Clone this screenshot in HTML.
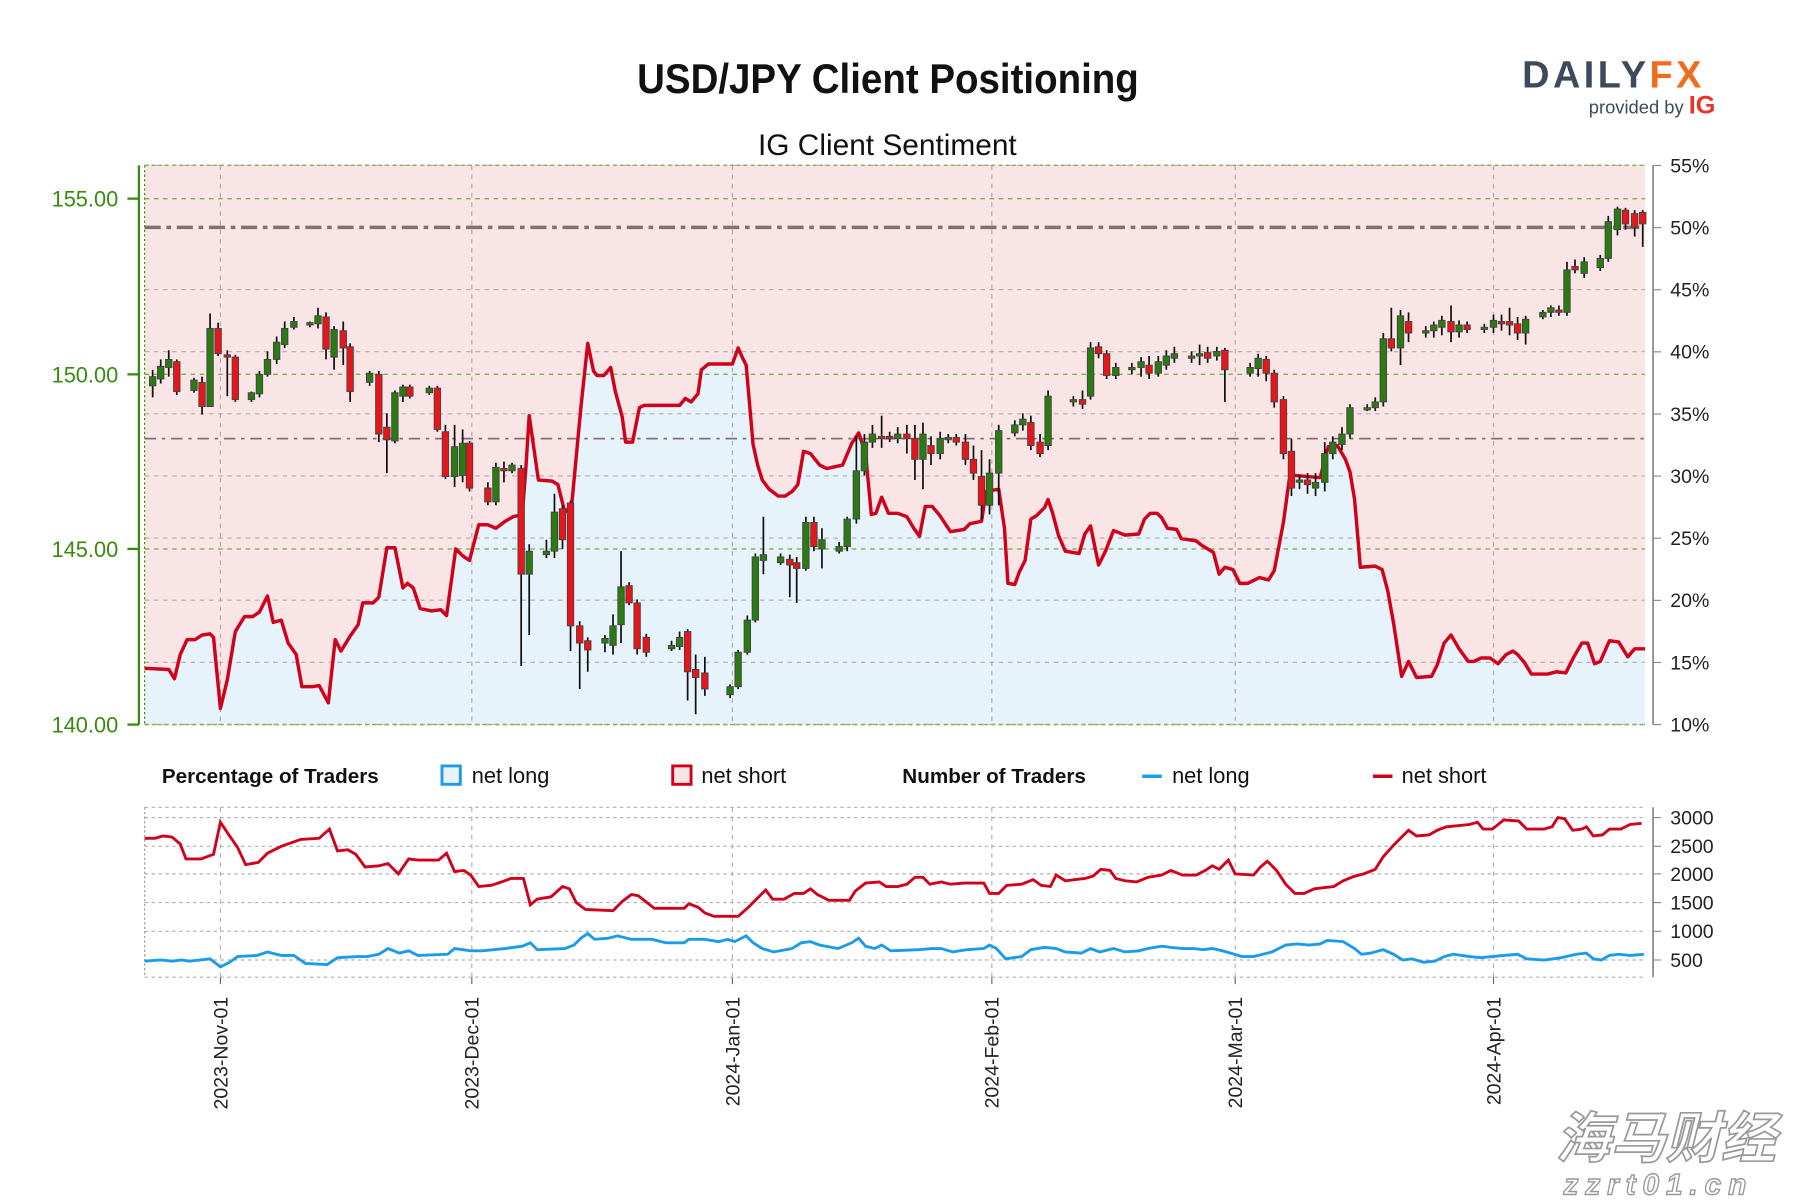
<!DOCTYPE html>
<html><head><meta charset="utf-8"><style>
html,body{margin:0;padding:0;background:#fff;width:1800px;height:1200px;overflow:hidden}
svg{display:block}
text{font-family:"Liberation Sans",sans-serif}
</style></head><body>
<svg id="s" width="1800" height="1200" viewBox="0 0 1568 1045" preserveAspectRatio="none" xmlns="http://www.w3.org/2000/svg">
<rect width="1568" height="1045" fill="#fff"/>
<text x="555" y="81" textLength="437" lengthAdjust="spacingAndGlyphs" font-size="36" font-weight="bold" fill="#111">USD/JPY Client Positioning</text>
<text x="773" y="135" text-anchor="middle" font-size="26" fill="#111">IG Client Sentiment</text>
<text x="1326" y="76" font-size="33" font-weight="bold" fill="#3d4a5c" letter-spacing="3">DAILY<tspan fill="#f26b1d">FX</tspan></text>
<text x="1384" y="99" font-size="16" fill="#3d4a5c">provided by <tspan fill="#e8332a" font-weight="bold" font-size="22">IG</tspan></text>
<rect x="126" y="144" width="1307" height="487" fill="#fae5e6"/>
<path id="area" fill="#e6f3fb"/>
<g id="grid"></g>
<line x1="126" y1="198" x2="1433" y2="198" stroke="#807070" stroke-width="3" stroke-dasharray="14,5,4,5"/>
<line x1="126" y1="382" x2="1433" y2="382" stroke="#807070" stroke-width="1.5" stroke-dasharray="10,5,3,5"/>
<polyline id="red" fill="none" stroke="#d0021b" stroke-width="3" stroke-linejoin="round"/>
<g id="candles"></g>
<line x1="121" y1="144" x2="121" y2="631" stroke="#3a8a0f" stroke-width="2"/>
<line x1="126" y1="144" x2="126" y2="631" stroke="#3a8a0f" stroke-width="1" stroke-dasharray="2,2"/>
<g stroke="#3a8a0f" stroke-width="2"><line x1="111" y1="173" x2="121" y2="173"/><line x1="111" y1="326" x2="121" y2="326"/><line x1="111" y1="478" x2="121" y2="478"/><line x1="111" y1="631" x2="121" y2="631"/></g>
<g fill="#3a8a0f" font-size="19" text-anchor="end"><text x="103" y="180">155.00</text><text x="103" y="333">150.00</text><text x="103" y="485">145.00</text><text x="103" y="638">140.00</text></g>
<line x1="1440" y1="144" x2="1440" y2="631" stroke="#888" stroke-width="1.5"/>
<g id="rt" fill="#222" font-size="17"></g>
<text x="141" y="682" font-size="18" font-weight="bold" fill="#111">Percentage of Traders</text>
<rect x="385" y="667" width="16" height="16" fill="#e6f3fb" stroke="#1c9be8" stroke-width="2.5"/>
<text x="411" y="682" font-size="19" fill="#111">net long</text>
<rect x="586" y="667" width="16" height="16" fill="#fae5e6" stroke="#d0021b" stroke-width="2.5"/>
<text x="611" y="682" font-size="19" fill="#111">net short</text>
<text x="786" y="682" font-size="18" font-weight="bold" fill="#111">Number of Traders</text>
<line x1="995" y1="676" x2="1012" y2="676" stroke="#1c9be8" stroke-width="3"/>
<text x="1021" y="682" font-size="19" fill="#111">net long</text>
<line x1="1196" y1="676" x2="1213" y2="676" stroke="#d0021b" stroke-width="3"/>
<text x="1221" y="682" font-size="19" fill="#111">net short</text>
<g id="grid2"></g>
<polyline id="red2" fill="none" stroke="#d0021b" stroke-width="2.5"/>
<polyline id="blue2" fill="none" stroke="#1c9be8" stroke-width="2.5"/>
<line x1="1440" y1="703" x2="1440" y2="851" stroke="#888" stroke-width="1.5"/>
<g id="rt2" fill="#222" font-size="17"></g>
<g id="dates" fill="#222" font-size="17"></g>
<text x="1355" y="1008" font-size="48" font-style="italic" font-weight="bold" fill="#fff" stroke="#999" stroke-width="1.5" style="font-family:'Noto Sans CJK SC',sans-serif">海马财经</text>
<text x="1362" y="1040" font-size="26" font-style="italic" font-weight="bold" fill="#fff" stroke="#999" stroke-width="1.2" letter-spacing="6">zzrt01.cn</text>
</svg>
<script>
var NS="http://www.w3.org/2000/svg";
function el(p,t,a,txt){var e=document.createElementNS(NS,t);for(var k in a)e.setAttribute(k,a[k]);if(txt)e.textContent=txt;document.getElementById(p).appendChild(e);return e;}
var vx=[192,411,638,864,1076,1301];
[173,326,478,631].forEach(function(y){el('grid','line',{x1:126,x2:1433,y1:y,y2:y,stroke:'#7fb04f','stroke-width':1.2,'stroke-dasharray':'4,4'});});
for(var i=0;i<=9;i++){var y=144+i*54.1;if(i==1)continue;el('grid','line',{x1:126,x2:1433,y1:y,y2:y,stroke:'#b9a9a9','stroke-width':1,'stroke-dasharray':'4,4'});}
vx.forEach(function(x){el('grid','line',{x1:x,x2:x,y1:144,y2:631,stroke:'#b0a8a8','stroke-width':1,'stroke-dasharray':'4,4'});
 el('grid2','line',{x1:x,x2:x,y1:703,y2:851,stroke:'#b0b0b0','stroke-width':1,'stroke-dasharray':'4,4'});
 el('grid2','line',{x1:x,x2:x,y1:851,y2:857,stroke:'#666','stroke-width':1});});
el('grid','line',{x1:126,x2:1433,y1:144,y2:144,stroke:'#7fb04f','stroke-width':1.2,'stroke-dasharray':'3,3'});
el('grid','line',{x1:126,x2:1433,y1:631,y2:631,stroke:'#7fb04f','stroke-width':1.2,'stroke-dasharray':'3,3'});
for(var p=10;p<=55;p+=5){var y=631-(p-10)*10.82;el('rt','line',{x1:1440,x2:1447,y1:y,y2:y,stroke:'#888'});el('rt','text',{x:1455,y:y+6},p+'%');}
[703,712,737,761,786,811,836,851].forEach(function(y){el('grid2','line',{x1:126,x2:1433,y1:y,y2:y,stroke:'#b0b0b0','stroke-width':1,'stroke-dasharray':'3,3'});});
el('grid2','line',{x1:126,x2:126,y1:703,y2:851,stroke:'#999','stroke-width':1,'stroke-dasharray':'2,2'});
[[3000,712],[2500,737],[2000,761],[1500,786],[1000,811],[500,836]].forEach(function(a){el('rt2','line',{x1:1440,x2:1447,y1:a[1],y2:a[1],stroke:'#888'});el('rt2','text',{x:1455,y:a[1]+6},a[0]);});
var dl=['2023-Nov-01','2023-Dec-01','2024-Jan-01','2024-Feb-01','2024-Mar-01','2024-Apr-01'];
vx.forEach(function(x,i){el('dates','text',{x:0,y:0,transform:'translate('+(x+6)+',868) rotate(-90)','text-anchor':'end'},dl[i]);});
var R="126,582 147,583 152,591 157,570 163,557 170,557 176,553 183,552 186,555 192,617 198,592 205,550 213,537 220,537 226,533 233,519 238,542 245,540 251,560 258,570 263,598 272,598 278,597 286,612 292,557 297,567 305,554 312,544 316,525 325,525 330,520 337,477 344,477 351,512 355,508 360,512 366,530 376,532 384,531 389,536 394,500 397,478 403,484 409,488 417,457 425,457 432,460 440,454 447,450 455,448 458,409 461,362 465,390 469,418 481,419 486,422 492,446 498,440 506,355 512,299 517,323 520,327 526,327 532,320 536,341 542,363 545,385 551,385 557,355 561,353 592,353 597,347 602,350 608,343 611,322 617,317 638,317 643,303 647,312 650,318 656,387 660,405 664,418 670,426 678,432 684,432 690,428 695,422 700,393 706,395 714,405 720,408 734,405 742,386 748,377 754,395 759,448 763,447 768,433 774,447 782,447 790,450 796,460 801,467 806,441 812,441 818,448 822,454 828,463 840,461 845,456 855,454 859,428 870,426 875,460 878,508 884,509 888,498 893,488 898,452 903,449 910,442 913,435 917,447 922,466 928,480 940,482 945,465 950,458 957,492 963,480 970,462 975,464 980,466 992,465 997,452 1002,447 1008,447 1012,451 1017,460 1025,461 1029,469 1042,471 1047,475 1052,478 1057,481 1062,500 1067,494 1074,496 1080,508 1087,508 1097,503 1105,505 1110,497 1118,455 1123,418 1128,414 1150,416 1157,389 1165,388 1172,400 1176,411 1180,435 1185,494 1198,493 1204,496 1209,515 1214,543 1221,589 1227,576 1234,590 1247,589 1252,579 1258,560 1264,553 1271,565 1279,576 1284,576 1290,573 1298,573 1305,578 1312,570 1318,567 1322,570 1328,577 1334,587 1348,587 1356,585 1364,586 1371,572 1378,560 1383,560 1389,578 1394,576 1402,558 1410,559 1418,572 1424,565 1433,565";
document.getElementById('red').setAttribute('points',R);
document.getElementById('area').setAttribute('d','M126,631 L'+R.replace(/ /g,' L')+' L1433,631 Z');
document.getElementById('red2').setAttribute('points',"126,730 135,730 142,728 150,729 157,735 162,748 175,748 186,744 192,716 200,728 207,738 214,753 225,751 233,743 245,737 262,731 278,730 287,722 294,741 303,740 310,744 318,755 330,754 338,752 347,761 356,748 364,749 382,749 389,743 396,759 404,758 410,762 417,772 428,771 437,768 445,765 456,765 462,788 468,783 480,781 490,772 496,774 502,786 510,792 534,793 542,785 550,779 556,780 570,791 596,791 600,787 608,790 614,795 622,798 643,798 652,790 660,782 667,775 673,783 683,783 692,778 700,778 706,774 712,779 722,784 740,784 745,776 754,769 766,768 772,772 782,772 790,770 797,764 804,764 810,770 820,768 828,770 840,769 857,769 862,778 870,778 877,771 890,770 900,766 907,771 915,772 920,762 928,767 945,765 952,763 959,757 967,758 972,765 980,767 990,768 1000,764 1012,762 1020,758 1030,762 1042,762 1050,758 1056,754 1062,757 1070,749 1076,761 1092,762 1098,755 1104,750 1112,758 1120,770 1128,778 1136,778 1145,774 1153,773 1162,772 1170,767 1180,763 1188,761 1198,757 1205,746 1214,736 1221,729 1227,723 1234,728 1245,727 1252,723 1260,720 1270,719 1280,718 1287,716 1292,722 1300,722 1310,714 1323,715 1330,722 1345,722 1352,720 1357,712 1363,713 1370,723 1378,722 1382,720 1388,728 1396,727 1402,722 1412,722 1420,718 1430,717");
document.getElementById('blue2').setAttribute('points',"126,837 140,836 150,837 158,836 165,837 183,835 192,842 200,838 207,833 224,832 233,829 245,832 256,832 266,839 285,840 294,834 312,833 320,833 330,831 338,826 348,830 356,828 364,832 390,831 396,826 410,828 420,828 440,826 455,824 462,821 468,827 492,826 500,823 506,817 512,813 518,818 530,817 538,815 550,818 568,818 580,821 596,821 600,818 614,818 626,820 634,818 640,820 650,815 656,821 664,826 674,829 690,826 698,821 706,820 714,823 730,826 742,821 748,817 754,824 762,826 768,823 776,828 800,827 812,826 820,826 830,829 842,827 857,826 862,823 868,826 876,835 890,833 898,827 910,825 920,826 928,829 942,830 950,826 958,829 970,826 980,829 992,828 1000,826 1012,824 1020,825 1030,826 1040,826 1048,827 1056,826 1065,828 1072,830 1082,833 1092,833 1100,831 1108,829 1114,826 1120,823 1130,822 1140,823 1150,822 1156,819 1170,820 1180,826 1186,831 1194,830 1205,827 1214,831 1222,836 1230,835 1240,838 1250,837 1258,833 1266,831 1280,833 1290,834 1300,833 1310,832 1322,831 1330,835 1345,836 1360,834 1373,831 1382,830 1388,835 1395,836 1402,832 1410,831 1420,832 1432,831");
var C=[[133,336,328,322,346],[140,330,319,313,334],[147,320,313,305,328],[154,315,341,313,344],[169,340,331,329,342],[176,333,354,328,361],[183,354,286,273,354],[190,286,308,281,310],[198,309,311,305,345],[205,311,348,309,350],[219,348,342,341,350],[226,343,326,323,346],[233,326,313,306,328],[241,313,298,293,317],[248,300,286,280,303],[256,285,280,276,287],[270,283,281,280,285],[277,282,275,268,286],[284,276,304,272,313],[291,311,287,284,322],[299,288,303,280,318],[305,302,341,299,350],[322,333,325,323,336],[330,326,378,323,385],[337,372,383,360,412],[344,384,342,340,386],[351,345,337,335,350],[357,337,345,335,347],[374,342,338,336,344],[381,338,374,336,376],[388,376,415,370,417],[396,415,389,370,424],[403,414,386,374,420],[409,386,425,384,428],[425,425,437,420,440],[432,437,407,403,440],[439,408,410,402,420],[446,410,405,403,412],[454,408,500,405,580],[461,500,480,474,553],[476,483,480,470,486],[483,480,446,430,486],[490,443,470,440,478],[497,438,545,436,567],[505,545,560,541,600],[512,558,566,555,585],[527,560,556,553,568],[534,562,545,535,570],[541,544,511,480,560],[548,510,525,507,527],[555,525,565,522,570],[563,555,568,552,572],[585,565,562,558,567],[592,563,555,550,566],[599,550,585,548,610],[606,583,590,570,622],[614,586,600,572,606],[636,605,598,596,608],[643,598,568,566,600],[651,568,540,536,570],[658,540,485,482,542],[665,488,483,450,500],[680,490,485,482,492],[688,487,492,483,520],[694,490,495,485,525],[702,495,455,450,497],[709,455,476,450,480],[716,478,470,460,495],[731,480,476,472,482],[738,476,452,450,480],[746,452,410,380,456],[753,410,385,378,414],[760,385,378,370,390],[768,380,382,362,390],[775,380,382,376,385],[782,382,378,372,386],[790,378,382,370,395],[797,382,400,370,418],[804,400,378,368,426],[811,388,395,380,405],[819,395,382,376,400],[826,383,381,378,386],[833,381,385,378,388],[841,385,400,378,405],[848,400,412,388,418],[855,415,440,392,452],[862,440,412,400,448],[870,412,375,370,440],[884,377,370,366,380],[891,370,365,360,375],[898,368,388,362,392],[906,385,395,378,398],[913,388,345,340,392],[935,350,348,345,354],[943,348,352,340,356],[950,345,303,298,348],[957,302,308,298,312],[964,308,327,305,330],[972,327,320,316,330],[986,322,320,316,326],[994,320,315,311,328],[1001,318,325,310,330],[1009,325,315,310,328],[1016,318,310,305,322],[1023,312,308,302,316],[1038,312,310,306,316],[1045,310,308,300,318],[1052,307,312,302,316],[1060,310,306,302,314],[1067,305,322,303,350],[1089,325,320,316,328],[1096,321,312,308,328],[1103,313,325,310,332],[1110,325,350,322,355],[1118,348,395,345,400],[1125,393,425,382,432],[1132,420,418,414,426],[1139,418,422,412,430],[1146,425,420,412,432],[1154,420,395,385,428],[1161,395,385,380,400],[1169,387,378,372,392],[1176,378,355,352,382],[1191,357,355,352,358],[1198,355,350,346,358],[1205,350,295,290,354],[1212,295,303,268,306],[1220,303,275,270,318],[1227,280,290,272,298],[1242,290,288,284,294],[1249,288,283,280,294],[1256,285,279,275,292],[1264,280,289,266,298],[1271,289,283,279,294],[1278,283,287,280,290],[1293,287,285,282,290],[1301,285,279,274,290],[1308,280,282,274,288],[1315,280,283,268,292],[1322,282,290,276,296],[1329,290,278,275,300],[1344,276,272,270,278],[1351,272,268,266,276],[1358,270,272,266,275],[1365,272,235,228,275],[1372,232,235,226,238],[1380,238,228,224,242],[1394,233,225,222,236],[1401,225,193,188,228],[1409,200,182,180,205],[1416,183,195,181,200],[1424,186,198,183,206],[1431,185,195,183,215]];
C.forEach(function(c){var x=c[0],o=c[1],cl=c[2],g=cl<o;var t=Math.min(o,cl),b=Math.max(o,cl);if(b-t<2){b=t+2;}
el('candles','line',{x1:x,x2:x,y1:c[3],y2:c[4],stroke:'#111','stroke-width':1.5});
el('candles','rect',{x:x-2.8,y:t,width:5.6,height:b-t,fill:g?'#2c7a14':'#e8161b',stroke:'#444','stroke-width':0.8});});
</script>
</body></html>
